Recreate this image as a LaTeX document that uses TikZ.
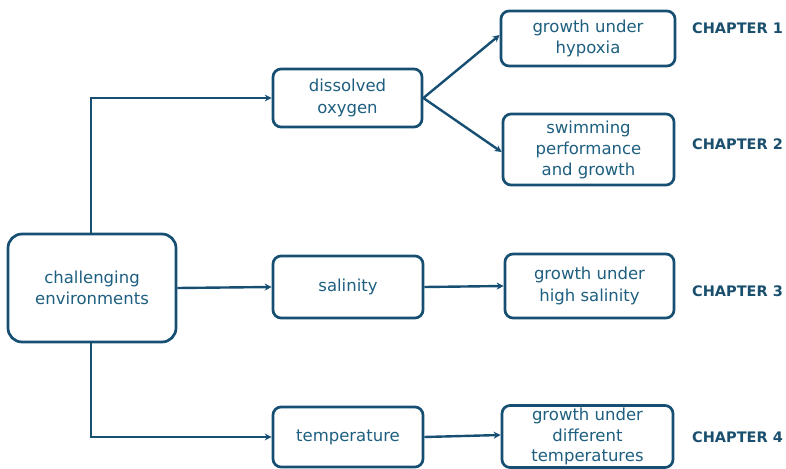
\documentclass[tikz,border=0pt]{standalone}
\usepackage{fontspec}
\setmainfont{DejaVu Sans}
\usetikzlibrary{arrows.meta}
\definecolor{bordc}{HTML}{174F73}
\definecolor{txtc}{HTML}{1E5F80}
\definecolor{chapc}{HTML}{1A4F6E}
\tikzset{
  box/.style={draw=bordc, line width=2.7pt, rounded corners=8pt, fill=white,
    text=txtc, align=center, inner sep=0pt,
    font=\fontsize{16.5}{21.5}\selectfont},
  bigbox/.style={box, rounded corners=14pt},
  conn/.style={draw=bordc, line width=2.4pt, -{Stealth[length=7pt,width=7pt]}},
  chap/.style={text=chapc, font=\fontsize{14.5}{17}\bfseries\selectfont, anchor=west, inner sep=0pt}
}
\begin{document}
\begin{tikzpicture}[x=1pt,y=-1pt]
\useasboundingbox (0,0) rectangle (786,468);
\node[bigbox, minimum width=168pt, minimum height=108pt] (ce) at (92,288) {challenging\\environments};
\node[box, minimum width=149pt, minimum height=58pt] (do) at (347.5,98) {dissolved\\oxygen};
\node[box, minimum width=150pt, minimum height=62pt] (sa) at (348,287) {salinity};
\node[box, minimum width=150pt, minimum height=60pt] (te) at (348,437) {temperature};
\node[box, minimum width=174pt, minimum height=55pt] (gh) at (588,38.5) {growth under\\hypoxia};
\node[box, minimum width=171pt, minimum height=71pt, font=\fontsize{16.5}{21}\selectfont] (sw) at (588.5,149.5) {swimming\\performance\\and growth};
\node[box, minimum width=169pt, minimum height=64pt] (hs) at (589.5,286) {growth under\\high salinity};
\node[box, minimum width=171pt, minimum height=62pt, font=\fontsize{16.5}{20.5}\selectfont] (dt) at (587.5,436.5) {growth under\\different\\temperatures};
\node[chap] (c1) at (692,28) {CHAPTER 1};
\node[chap] (c2) at (692,144) {CHAPTER 2};
\node[chap] (c3) at (692,291) {CHAPTER 3};
\node[chap] (c4) at (692,437) {CHAPTER 4};
\draw[conn] ([xshift=-1pt]ce.north) |- (do.west);
\draw[conn] ([xshift=-1pt]ce.south) |- (te.west);
\draw[conn] (ce.east) -- (sa.west);
\draw[conn] (do.east) -- ([yshift=3.5pt]gh.west);
\draw[conn] (do.east) -- ([yshift=-2.5pt]sw.west);
\draw[conn] (sa.east) -- (hs.west);
\draw[conn] (te.east) -- ([yshift=1.5pt]dt.west);
\end{tikzpicture}
\end{document}
